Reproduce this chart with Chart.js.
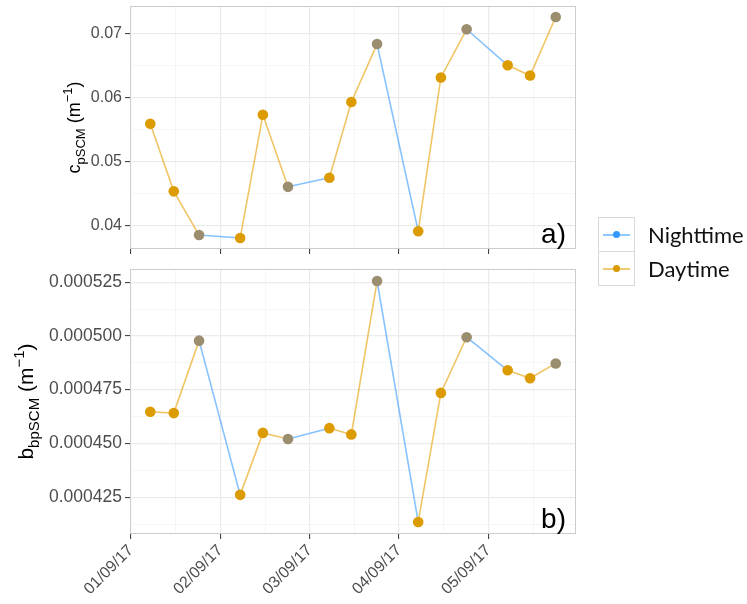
<!DOCTYPE html>
<html>
<head>
<meta charset="utf-8">
<script src="https://cdn.jsdelivr.net/npm/chart.js@4.4.0/dist/chart.umd.min.js"></script>
<style>
    body { margin: 0; background: #fff; }
    #wrap { position: relative; width: 747px; height: 604px; overflow: hidden; }
    #topCanvas { position: absolute; left: 0; top: 0; }
    #bottomCanvas { position: absolute; left: 0; top: 262px; }
    .legend { position: absolute; left: 598px; top: 217px; font-family: Lato, "Open Sans", sans-serif; font-size: 22px; color: #111; }
    .legend-row { display: flex; align-items: center; }
    .legend-row + .legend-row { margin-top: -1px; }
    .key { position: relative; width: 37px; height: 35px; border: 1px solid #d9d9d9; box-sizing: border-box; }
    .key .line { position: absolute; left: 4px; right: 4px; top: 16px; height: 2px; }
    .key .dot { position: absolute; left: 14px; top: 13px; width: 7px; height: 7px; border-radius: 50%; }
    .legend-label { margin-left: 13px; }
</style>
</head>
<body>
<div id="wrap">
    <canvas id="topCanvas" width="747" height="262"></canvas>
    <canvas id="bottomCanvas" width="747" height="342"></canvas>
    <div class="legend">
        <div class="legend-row">
            <span class="key"><i class="line" style="background: rgba(51,153,255,0.55)"></i><i class="dot" style="background: #3399ff"></i></span>
            <span class="legend-label">Nighttime</span>
        </div>
        <div class="legend-row">
            <span class="key"><i class="line" style="background: rgba(230,159,0,0.55)"></i><i class="dot" style="background: #d99a00"></i></span>
            <span class="legend-label">Daytime</span>
        </div>
    </div>
</div>
<script>
// x positions are days after 01/09/17 00:00
const dayTicks = [0, 1, 2, 3, 4];
const dateLabels = ['01/09/17', '02/09/17', '03/09/17', '04/09/17', '05/09/17'];
const sampleDays = [0.216, 0.479, 0.762, 1.222, 1.476, 1.757, 2.220, 2.466, 2.754, 3.214, 3.468, 3.756, 4.215, 4.466, 4.753];
const period = ['Day', 'Day', 'Night', 'Day', 'Day', 'Night', 'Day', 'Day', 'Night', 'Day', 'Day', 'Night', 'Day', 'Day', 'Night'];
const cpValues = [0.0559, 0.0454, 0.0386, 0.03815, 0.0573, 0.0461, 0.0475, 0.0593, 0.0683, 0.0392, 0.0631, 0.0706, 0.0650, 0.0634, 0.0725];
const bbpValues = [0.0004647, 0.0004641, 0.0004978, 0.0004261, 0.0004549, 0.0004521, 0.0004571, 0.0004542, 0.0005255, 0.0004135, 0.0004735, 0.0004994, 0.0004840, 0.0004803, 0.0004872];
const cpTicks = [0.04, 0.05, 0.06, 0.07];
const bbpTicks = [0.000425, 0.000450, 0.000475, 0.000500, 0.000525];

const colors = {
    nightLine: 'rgba(51,153,255,0.6)',
    dayLine: 'rgba(230,159,0,0.6)',
    nightPoint: '#9b8e6e',
    dayPoint: '#dc9b00',
    major: '#ebebeb',
    minor: '#f4f4f4',
    tick: '#333333',
    tickLabel: '#4d4d4d'
};

// ggplot-like 5% expansion of the data range
function expand(values) {
    const lo = Math.min(...values), hi = Math.max(...values);
    const pad = (hi - lo) * 0.05;
    return { min: lo - pad, max: hi + pad };
}

// majors from the list plus minors halfway between, kept inside the axis range
function withMinors(majors, range) {
    const step = majors[1] - majors[0];
    const ticks = majors.map(v => ({ value: v, minor: false }));
    for (let i = -1; i < majors.length; i++) {
        ticks.push({ value: majors[0] + (i + 0.5) * step, minor: true });
    }
    return ticks
        .filter(t => t.value >= range.min && t.value <= range.max)
        .sort((a, b) => a.value - b.value);
}

const panelPlugin = {
    id: 'panel',
    afterDraw(chart, args, opts) {
        const { ctx, chartArea } = chart;
        ctx.save();
        ctx.strokeStyle = '#cccccc';
        ctx.lineWidth = 1;
        ctx.strokeRect(chartArea.left + 0.5, chartArea.top + 0.5, chartArea.width - 1, chartArea.height - 1);

        ctx.fillStyle = '#000';
        ctx.font = '28px "Liberation Sans", Arial, sans-serif';
        ctx.textAlign = 'right';
        ctx.textBaseline = 'alphabetic';
        ctx.fillText(opts.letter, chartArea.right - 10, chartArea.bottom - 6);

        // rotated y title with sub/superscripts
        ctx.translate(opts.titleX, (chartArea.top + chartArea.bottom) / 2);
        ctx.rotate(-Math.PI / 2);
        ctx.textAlign = 'left';
        let total = 0;
        opts.titleParts.forEach(p => {
            ctx.font = p.size + 'px "Liberation Sans", Arial, sans-serif';
            total += ctx.measureText(p.text).width;
        });
        let x = -total / 2;
        opts.titleParts.forEach(p => {
            ctx.font = p.size + 'px "Liberation Sans", Arial, sans-serif';
            ctx.fillText(p.text, x, p.shift);
            x += ctx.measureText(p.text).width;
        });
        ctx.restore();
    }
};

function gridStyle() {
    return {
        color: c => c.tick && c.tick.minor ? colors.minor : colors.major,
        lineWidth: c => c.tick && c.tick.minor ? 0.8 : 1.2,
        tickColor: c => c.tick && c.tick.minor ? 'rgba(0,0,0,0)' : colors.tick,
        tickLength: 5,
        tickWidth: 1
    };
}

function makePanel(canvasId, values, yTicks, cfg) {
    const xRange = expand(sampleDays);
    const yRange = expand(values);
    const points = sampleDays.map((d, i) => ({ x: d, y: values[i] }));

    return new Chart(document.getElementById(canvasId), {
        type: 'line',
        data: {
            datasets: [{
                data: points,
                borderWidth: 1.6,
                borderColor: colors.dayLine,
                segment: {
                    borderColor: c => period[c.p0DataIndex] === 'Night' ? colors.nightLine : colors.dayLine
                },
                pointRadius: 5.3,
                pointHoverRadius: 5.3,
                pointBorderWidth: 0,
                pointBackgroundColor: period.map(p => p === 'Night' ? colors.nightPoint : colors.dayPoint),
                pointBorderColor: period.map(p => p === 'Night' ? colors.nightPoint : colors.dayPoint),
                tension: 0
            }]
        },
        options: {
            responsive: false,
            animation: false,
            devicePixelRatio: 1,
            layout: { padding: { top: cfg.padTop, left: 0, right: 171, bottom: 0 } },
            plugins: {
                legend: { display: false },
                tooltip: { enabled: false },
                panel: { letter: cfg.letter, titleX: cfg.titleX, titleParts: cfg.titleParts }
            },
            scales: {
                x: {
                    type: 'linear',
                    min: xRange.min,
                    max: xRange.max,
                    border: { display: false },
                    grid: gridStyle(),
                    afterBuildTicks: s => { s.ticks = withMinors(dayTicks, xRange); },
                    afterFit: s => { s.height = cfg.xHeight; s.paddingLeft = 0; s.paddingRight = 0; },
                    ticks: {
                        display: cfg.showDates,
                        autoSkip: false,
                        minRotation: 45,
                        maxRotation: 45,
                        padding: 2,
                        color: colors.tickLabel,
                        font: { family: '"Liberation Sans", Arial, sans-serif', size: 16 },
                        callback: (v, i, ticks) => ticks[i].minor ? '' : dateLabels[dayTicks.indexOf(Math.round(v))]
                    }
                },
                y: {
                    min: yRange.min,
                    max: yRange.max,
                    border: { display: false },
                    grid: gridStyle(),
                    afterBuildTicks: s => { s.ticks = withMinors(yTicks, yRange); },
                    afterFit: s => { s.width = 130; s.paddingTop = 0; s.paddingBottom = 0; },
                    ticks: {
                        autoSkip: false,
                        padding: 3,
                        color: colors.tickLabel,
                        font: { family: '"Liberation Sans", Arial, sans-serif', size: cfg.tickSize },
                        callback: (v, i, ticks) => ticks[i].minor ? '' : v.toFixed(cfg.decimals)
                    }
                }
            }
        },
        plugins: [panelPlugin]
    });
}

makePanel('topCanvas', cpValues, cpTicks, {
    padTop: 6, xHeight: 13, showDates: false, letter: 'a)', decimals: 2, tickSize: 16, titleX: 80,
    titleParts: [
        { text: 'c', size: 18, shift: 0 },
        { text: 'pSCM', size: 13, shift: 5 },
        { text: ' (m', size: 18, shift: 0 },
        { text: '\u22121', size: 13, shift: -8 },
        { text: ')', size: 18, shift: 0 }
    ]
});

makePanel('bottomCanvas', bbpValues, bbpTicks, {
    padTop: 7, xHeight: 70, showDates: true, letter: 'b)', decimals: 6, tickSize: 17.5, titleX: 33,
    titleParts: [
        { text: 'b', size: 21, shift: 0 },
        { text: 'bpSCM', size: 15, shift: 6 },
        { text: ' (m', size: 21, shift: 0 },
        { text: '\u22121', size: 15, shift: -9 },
        { text: ')', size: 21, shift: 0 }
    ]
});
</script>
</body>
</html>
